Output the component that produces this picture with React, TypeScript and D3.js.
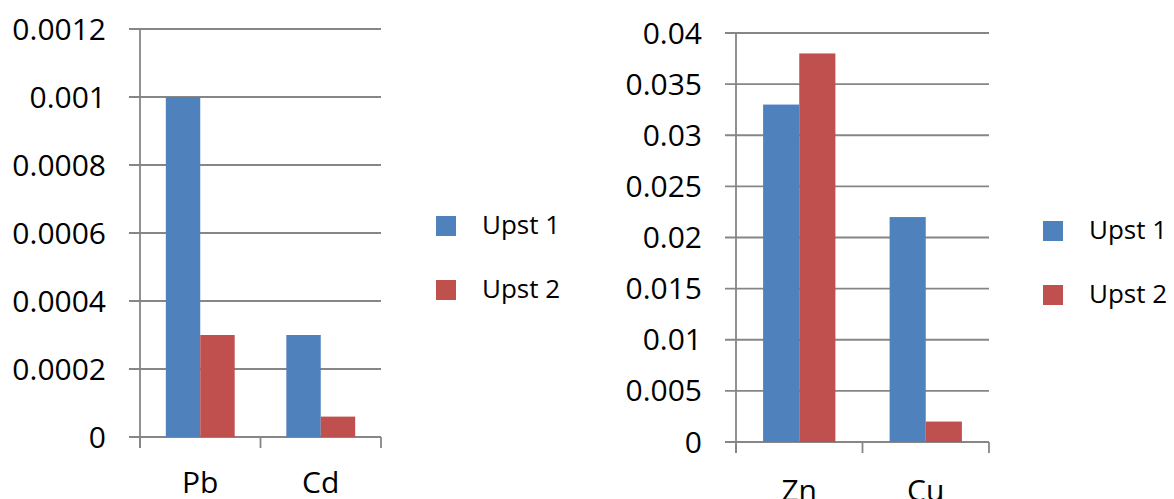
import React from "react";
import * as d3 from "d3";

const seriesNames = ["Upst 1", "Upst 2"];
const seriesColors = ["#4F81BD", "#C0504D"];

const leftCategories = ["Pb", "Cd"];
const leftUpst1 = [0.001, 0.0003];
const leftUpst2 = [0.0003, 0.00006];
const leftTicks = [0, 0.0002, 0.0004, 0.0006, 0.0008, 0.001, 0.0012];
const leftTickLabels = ["0", "0.0002", "0.0004", "0.0006", "0.0008", "0.001", "0.0012"];

const rightCategories = ["Zn", "Cu"];
const rightUpst1 = [0.033, 0.022];
const rightUpst2 = [0.038, 0.002];
const rightTicks = [0, 0.005, 0.01, 0.015, 0.02, 0.025, 0.03, 0.035, 0.04];
const rightTickLabels = ["0", "0.005", "0.01", "0.015", "0.02", "0.025", "0.03", "0.035", "0.04"];

const FONT = "'Open Sans', 'Liberation Sans', sans-serif";
const GRID = "#868686";

type PanelProps = {
  categories: string[];
  values: number[][];
  ticks: number[];
  tickLabels: string[];
  x0: number;
  x1: number;
  yTop: number;
  yBottom: number;
  catLabelY: number;
  legendX: number;
  legendY: number;
};

function Panel(p: PanelProps) {
  const maxV = p.ticks[p.ticks.length - 1];
  const y = d3.scaleLinear().domain([0, maxV]).range([p.yBottom, p.yTop]);
  const x = d3
    .scaleBand<string>()
    .domain(p.categories)
    .range([p.x0, p.x1])
    .paddingInner(3 / 7)
    .paddingOuter(3 / 14);
  const xs = d3.scaleBand<string>().domain(seriesNames).range([0, x.bandwidth()]);
  const step = (p.x1 - p.x0) / p.categories.length;
  const boundaries = d3.range(p.categories.length + 1).map((i) => p.x0 + i * step);

  return (
    <g>
      {p.ticks.map((t, i) => (
        <g key={"t" + i}>
          <line x1={p.x0 - 11} x2={p.x1} y1={y(t)} y2={y(t)} stroke={GRID} strokeWidth={1.8} />
          <text
            x={p.x0 - 34}
            y={y(t) + 10.5}
            textAnchor="end"
            fontFamily={FONT}
            fontSize={30}
            fill="#000"
          >
            {p.tickLabels[i]}
          </text>
        </g>
      ))}
      {p.categories.map((c, ci) =>
        seriesNames.map((s, si) => {
          const v = p.values[si][ci];
          return (
            <rect
              key={c + s}
              x={(x(c) as number) + (xs(s) as number)}
              y={y(v)}
              width={xs.bandwidth()}
              height={p.yBottom - y(v)}
              fill={seriesColors[si]}
            />
          );
        })
      )}
      <line x1={p.x0} x2={p.x0} y1={p.yTop} y2={p.yBottom + 11} stroke={GRID} strokeWidth={1.8} />
      {boundaries.map((bx, i) => (
        <line key={"b" + i} x1={bx} x2={bx} y1={p.yBottom} y2={p.yBottom + 11} stroke={GRID} strokeWidth={1.8} />
      ))}
      {p.categories.map((c) => (
        <text
          key={"c" + c}
          x={(x(c) as number) + x.bandwidth() / 2}
          y={p.catLabelY}
          textAnchor="middle"
          fontFamily={FONT}
          fontSize={30}
          fill="#000"
        >
          {c}
        </text>
      ))}
      {seriesNames.map((s, i) => (
        <g key={"l" + s}>
          <rect x={p.legendX} y={p.legendY + i * 64} width={20} height={20} fill={seriesColors[i]} />
          <text
            x={p.legendX + 46}
            y={p.legendY + i * 64 + 18}
            fontFamily={FONT}
            fontSize={26}
            fill="#000"
          >
            {s}
          </text>
        </g>
      ))}
    </g>
  );
}

export default function App() {
  return (
    <svg
      width={1174}
      height={499}
      style={{ position: "absolute", left: 0, top: 0, background: "#fff" }}
    >
      <rect x={0} y={0} width={1174} height={499} fill="#fff" />
      <Panel
        categories={leftCategories}
        values={[leftUpst1, leftUpst2]}
        ticks={leftTicks}
        tickLabels={leftTickLabels}
        x0={140}
        x1={381}
        yTop={29}
        yBottom={437}
        catLabelY={493}
        legendX={436}
        legendY={216}
      />
      <Panel
        categories={rightCategories}
        values={[rightUpst1, rightUpst2]}
        ticks={rightTicks}
        tickLabels={rightTickLabels}
        x0={736}
        x1={989}
        yTop={33}
        yBottom={442}
        catLabelY={501}
        legendX={1043}
        legendY={221}
      />
    </svg>
  );
}
